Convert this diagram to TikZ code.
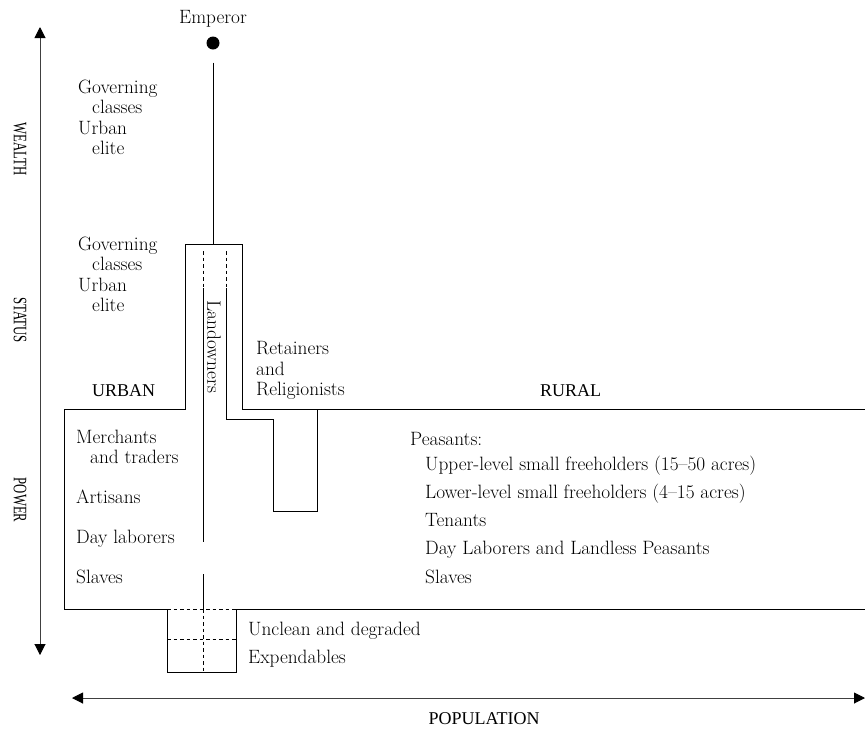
\documentclass[tikz,border=0pt]{standalone}
\usepackage{fontspec}
\newfontfamily\lblfont{Liberation Serif}
\usetikzlibrary{arrows.meta}
\begin{document}
\begin{tikzpicture}[x=1pt,y=-1pt,
  txt/.style={font=\fontsize{19.3}{23}\selectfont, anchor=base west, inner sep=0pt},
  axlbl/.style={font=\lblfont\fontsize{18}{21}\selectfont, inner sep=0pt},
  sidelbl/.style={font=\lblfont\fontsize{19}{22}\selectfont, inner sep=0pt, rotate=-90, xscale=0.67},
  ln/.style={line width=0.9pt},
  dsh/.style={line width=0.9pt, dash pattern=on 3.5pt off 3pt},
  axis/.style={line width=1pt, black!75, {Triangle[length=11pt,width=11pt,fill=black,color=black]}-{Triangle[length=11pt,width=11pt,fill=black,color=black]}}]
\useasboundingbox (0,0) rectangle (865,729);

% axes
\coordinate (vtop) at (40,27);
\coordinate (vbot) at (40,655);
\coordinate (hl) at (72,698);
\coordinate (hr) at (865,698);
\draw[axis] (vbot) -- (vtop);
\draw[axis] (hl) -- (hr);
\node[sidelbl] (wealth) at (20,149) {WEALTH};
\node[sidelbl] (status) at (20,320) {STATUS};
\node[sidelbl] (power) at (20,500) {POWER};
\node[axlbl, anchor=base] (pop) at (484,724) {POPULATION};

% emperor
\node[txt, anchor=base] (emp) at (213,23) {Emperor};
\node[circle, fill=black, inner sep=0pt, minimum size=13pt] (dot) at (213,43) {};
\coordinate (ltop) at (213,244);
\draw[ln] ([yshift=-13pt]dot.south) -- (ltop);

% outlines
\draw[ln] (64,409) -- (185,409) -- (185,244) -- (242,244) -- (242,409) -- (866,409);
\draw[ln] (64,409) -- (64,609) -- (167,609);
\draw[dsh] (167,609) -- (236,609);
\draw[ln] (236,609) -- (866,609);
\draw[ln] (226,288) -- (226,419) -- (273,419) -- (273,511) -- (317,511) -- (317,409);
\draw[dsh] (226,251) -- (226,288);
\draw[dsh] (203,251) -- (203,288);
\draw[ln] (203,288) -- (203,542);
\draw[ln] (203,574) -- (203,609);
\draw[dsh] (203,609) -- (203,672);
\draw[ln] (167,609) -- (167,672) -- (236,672) -- (236,609);
\draw[dsh] (167,639) -- (236,639);

\node[txt, rotate=-90, anchor=center] (land) at (214,347) {Landowners};

% left texts
\node[txt] (gov1) at (78,93) {Governing};
\node[txt] (cls1) at (92,113) {classes};
\node[txt] (urb1) at (78,134) {Urban};
\node[txt] (eli1) at (92,154) {elite};
\node[txt] (gov2) at (78,250) {Governing};
\node[txt] (cls2) at (92,270) {classes};
\node[txt] (urb2) at (78,291) {Urban};
\node[txt] (eli2) at (92,311) {elite};
\node[axlbl, anchor=base west] (urban) at (92,396) {URBAN};
\node[axlbl, anchor=base west] (rural) at (540,396) {RURAL};
\node[txt] (ret1) at (256,354) {Retainers};
\node[txt] (ret2) at (256,375) {and};
\node[txt] (ret3) at (256,395) {Religionists};

\node[txt] (mer1) at (76,443) {Merchants};
\node[txt] (mer2) at (90,463) {and traders};
\node[txt] (art) at (76,503) {Artisans};
\node[txt] (dayl) at (76,543) {Day laborers};
\node[txt] (slu) at (76,583) {Slaves};

\node[txt] (peas) at (410,445) {Peasants:};
\node[txt] (up) at (425,470) {Upper-level small freeholders (15--50 acres)};
\node[txt] (low) at (425,498) {Lower-level small freeholders (4--15 acres)};
\node[txt] (ten) at (425,526) {Tenants};
\node[txt] (dlp) at (425,554) {Day Laborers and Landless Peasants};
\node[txt] (slr) at (425,583) {Slaves};

\node[txt] (unc) at (248,635) {Unclean and degraded};
\node[txt] (exp) at (248,663) {Expendables};
\end{tikzpicture}
\end{document}
